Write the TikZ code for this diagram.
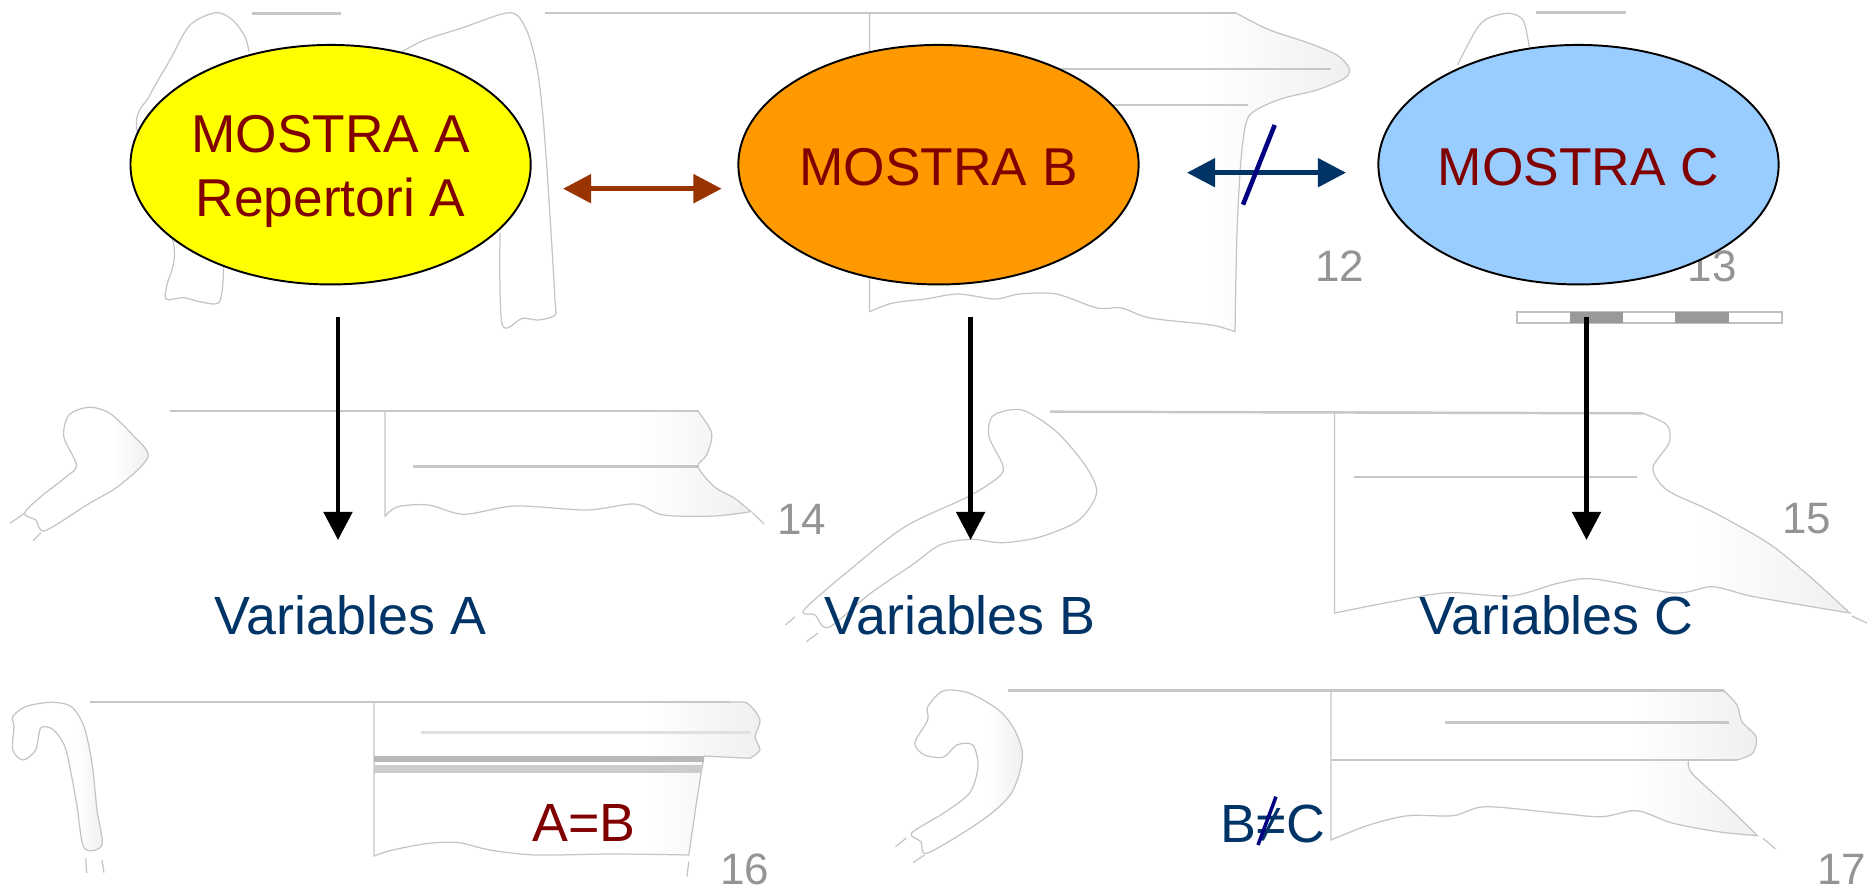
\documentclass[tikz,border=0pt]{standalone}
\usepackage{fontspec}
\setmainfont{Liberation Sans}
\usetikzlibrary{arrows.meta,shapes.geometric}
\definecolor{textred}{HTML}{800000}
\definecolor{textblue}{HTML}{003366}
\definecolor{linkred}{HTML}{993300}
\definecolor{slashblue}{HTML}{000080}
\definecolor{filla}{HTML}{FFFF00}
\definecolor{fillb}{HTML}{FF9900}
\definecolor{fillc}{HTML}{99CCFF}
\pgfdeclarehorizontalshading{sherdfade}{100bp}{color(0bp)=(white); color(60bp)=(white); color(75bp)=(black!6); color(100bp)=(black!6)}
\begin{document}
\begin{tikzpicture}[x=0.01cm,y=-0.01cm,>={Triangle[length=8pt,width=8pt]}]
\tikzset{sherd/.style={draw=black!23,line width=.35pt,shading=sherdfade}}
\tikzset{edge/.style={draw=black!23,line width=.35pt}}
\tikzset{rim/.style={draw=black!22,line width=.7pt}}
\tikzset{mostra/.style={draw=black,shape=ellipse,line width=.55pt,minimum width=4cm,minimum height=2.394cm,inner sep=0pt,align=center,text=textred,font=\fontsize{15.15}{18.2}\selectfont}}
\tikzset{vari/.style={anchor=base,text=textblue,inner sep=0pt,font=\fontsize{15.3}{18}\selectfont}}
\tikzset{fignum/.style={anchor=base,text=black!42,inner sep=0pt,font=\fontsize{12.5}{15}\selectfont}}
\useasboundingbox (0,0) rectangle (1871,891);

\draw[rim] (252,13.3) -- (341,13.3);
\draw[edge] plot[smooth] coordinates {(223.7,266.7) (219.6,301.7) (200,301.7) (183.7,297.7) (166.5,299.3) (166.5,286.7) (173.5,243) (137,130) (150,95) (170,60) (190,25) (216,12.7) (232.6,20) (245,36.7) (249,51.7)};
\draw[edge] plot[smooth] coordinates {(402,51.7) (424.5,40) (461,28.3) (510,12.7) (526.5,30) (536.7,66.7) (543,116.7) (549,200) (555,300) (555,315) (538.8,320) (522.4,318.3) (502,324) (500,233)};

\path[sherd] (869.4,13) -- (1236,13) --plot[smooth] coordinates {(1236,13) (1268,29.3) (1308.5,43) (1337,55) (1349,68) (1345,78) (1317,90) (1284,98) (1259.6,108) (1247,120) (1241,160) (1237,233) (1235,331.7)} --plot[smooth] coordinates {(1235,331.7) (1211,325) (1150,318) (1121.6,308) (1097,308) (1056,294) (1019.6,294) (995,299) (958,294) (925.7,299) (893,303) (869.4,311.7)} -- cycle;
\draw[rim] (545,13) -- (1236,13);
\draw[rim] (1000,69) -- (1331,69);
\draw[rim] (1000,105) -- (1248,105);
\node[fignum] (n12) at (1340,281.7) {12};

\draw[rim] (1536,12.7) -- (1626,12.7);
\draw[edge] plot[smooth] coordinates {(1457.5,65) (1476,30) (1488,18.3) (1508.5,13.3) (1523,20) (1529,45) (1531,60)};
\node[fignum] (n13) at (1712,281.7) {13};
\draw[black!25,line width=.5pt] (1516.7,312.3) rectangle (1782,322.7);
\fill[black!40] (1570,312.3) rectangle (1623,322.7);
\fill[black!40] (1675,312.3) rectangle (1728.6,322.7);

\path[sherd] plot[smooth cycle] coordinates {(89,407.3) (109.7,413.3) (132.7,435) (148,456.7) (120,485) (86.7,505) (45,530.7) (35.7,520) (24.5,513.3) (40.8,496.7) (66.3,476.7) (76.5,465) (63.8,436.7) (69,415)};
\draw[edge] (10,523.3) -- (24.5,513.3);
\draw[edge] (33,540.7) -- (41,532.7);
\path[sherd] (385,411) -- (698,411) --plot[smooth] coordinates {(698,411) (711.7,433.3) (706.6,455) (698,466.7) (714.3,486.7) (734.7,498.3) (751,511.7)} --plot[smooth] coordinates {(751,511.7) (714,516) (663,515) (635,504) (586.7,510) (515,506) (464,514.3) (428.6,505) (398,506.7) (385,516)} -- cycle;
\draw[rim] (170,411) -- (698,411);
\draw[rim] (413,466.7) -- (698,466.7);
\draw[edge] (752.5,512.7) -- (764,524);
\node[fignum] (n14) at (802,534.3) {14};

\draw[edge] plot[smooth cycle] coordinates {(1009.6,410) (1027,411.7) (1058,433) (1086,466.7) (1096.6,493) (1079,520) (1041,536.7) (1002.7,542.7) (971,539.3) (940,545) (912,565) (870.5,593.3) (828.7,627.3) (815,615) (804,610) (849.6,570) (905,526.7) (968,496.7) (999,476.7) (1002.7,465) (989,436.7) (992,416.7)};
\draw[edge] (785.6,625) -- (795,616.7);
\draw[edge] (806.4,641.7) -- (818,633);
\path[sherd] (1334.6,412) -- (1643,413.3) --plot[smooth] coordinates {(1643,413.3) (1667,425) (1669,443) (1653,468) (1667,490) (1712.5,511.7) (1768,543) (1810,576.7) (1849.6,613)} --plot[smooth] coordinates {(1849.6,613) (1754,596.7) (1712.5,586.7) (1674,593) (1594,579) (1559,583) (1510.7,596) (1448,592.7) (1392,601.7) (1334.6,613)} -- cycle;
\draw[rim] (1050,411.7) -- (1643,413.3);
\draw[rim] (1354,477) -- (1637,477);
\draw[edge] (1851.7,616) -- (1867,623);
\node[fignum] (n15) at (1806.5,534) {15};

\path[sherd] plot[smooth cycle] coordinates {(51,702.3) (71.4,706.7) (84,726.7) (92,763) (97,810) (102,845) (84,847.7) (76.5,803) (66,750) (53.6,730) (40.8,728) (35.7,750) (23,760) (12.8,750) (14,726.7) (12.8,716.7) (25.5,706.7)};
\draw[edge] (85.7,858) -- (86.7,873);
\draw[edge] (102,860) -- (104,872.7);
\path[sherd] (374,702) -- (729.6,702.3) --plot[smooth] coordinates {(729.6,702.3) (747.4,703.3) (760,720) (755,736.7) (760,750) (750,758.3)} -- (704,756) --plot[smooth] coordinates {(704,756) (696.4,803) (688.8,855)} --plot[smooth] coordinates {(688.8,855) (612,854) (535.7,855) (490,850) (459,842.7) (428.6,843.3) (392.9,850) (374,856)} -- cycle;
\fill[black!28] (374,755.7) rectangle (704,762.3);
\fill[black!20] (374,765) rectangle (702,772.7);
\draw[rim] (90,702) -- (729.6,702);
\draw[rim,black!12] (421,732.7) -- (750,732.7);
\draw[edge] (688.8,861.7) -- (687,876.7);
\node[fignum] (n16) at (745,885) {16};

\path[sherd] plot[smooth cycle] coordinates {(943.8,690.7) (969.6,693.3) (998.6,710) (1014.7,730) (1022.5,756.7) (1011.5,793) (982.5,820) (927.7,853) (921,841.7) (911.6,833) (943.8,813) (969.6,793) (978,766.7) (972.8,745) (956.7,745) (943.8,757) (924.5,755) (914.8,743) (927.7,720) (927.7,706.7)};
\draw[edge] (895.5,846.7) -- (906.4,838);
\draw[edge] (912.9,862.7) -- (924.5,855);
\path[sherd] (1331,690.7) -- (1724,690.7) --plot[smooth] coordinates {(1724,690.7) (1737,705) (1742,721.7) (1756,736.7) (1753,753) (1737,760)} -- (1688.5,760) --plot[smooth] coordinates {(1688.5,760) (1691.7,773) (1724,803) (1757.5,835.7)} --plot[smooth] coordinates {(1757.5,835.7) (1717.5,831.7) (1672,823) (1637,810.7) (1601.5,816.7) (1556,813) (1485.4,806.7) (1453,815.7) (1408,815.7) (1369,825) (1331,840)} -- cycle;
\draw[rim] (1008,690.7) -- (1724,690.7);
\draw[rim] (1331,760) -- (1737,760);
\draw[rim] (1445.4,722.7) -- (1729,722.7);
\draw[edge] (1762.7,838) -- (1775.6,849);
\node[fignum] (n17) at (1842,885) {17};

\node[mostra,fill=filla] (ma) at (330.6,164.7) {\rule{0pt}{14.65pt}MOSTRA A\\Repertori A};
\node[mostra,fill=fillb,text height=11.6pt,text depth=0pt] (mb) at (938.5,164.7) {MOSTRA B};
\node[mostra,fill=fillc,text height=11.6pt,text depth=0pt] (mc) at (1578.5,164.7) {MOSTRA C};

\node[vari] (va) at (350.5,635) {Variables A};
\node[vari] (vb) at (960,635) {Variables B};
\node[vari] (vc) at (1556.5,635) {Variables C};
\node[anchor=base,text=textred,inner sep=0pt,font=\fontsize{15.3}{18}\selectfont] (ab) at (584,842) {A=B};
\node[vari] (bc) at (1273,842.7) {B≠C};

\coordinate (ra) at (563,188.7);
\coordinate (rb) at (721.6,188.7);
\coordinate (sb) at (1187,172.7);
\coordinate (sc) at (1346,172.7);
\coordinate (sl) at (1243,204.7);
\coordinate (su) at (1274.7,125);
\coordinate (bl) at (1258,845);
\coordinate (bu) at (1276,796.7);
\coordinate (ta) at (338,317);
\coordinate (ea) at (338,540);
\coordinate (tb) at (970.6,317);
\coordinate (eb) at (970.6,540);
\coordinate (tc) at (1586.5,317);
\coordinate (ec) at (1586.5,540);

\draw[<->,linkred,line width=1.4pt] (ra) -- (rb);
\draw[<->,textblue,line width=1.4pt] (sb) -- (sc);
\draw[slashblue,line width=1.3pt] (sl) -- (su);
\draw[slashblue,line width=1pt] (bl) -- (bu);
\draw[->,black,line width=1.4pt] (ta) -- (ea);
\draw[->,black,line width=1.4pt] (tb) -- (eb);
\draw[->,black,line width=1.4pt] (tc) -- (ec);

\end{tikzpicture}
\end{document}
